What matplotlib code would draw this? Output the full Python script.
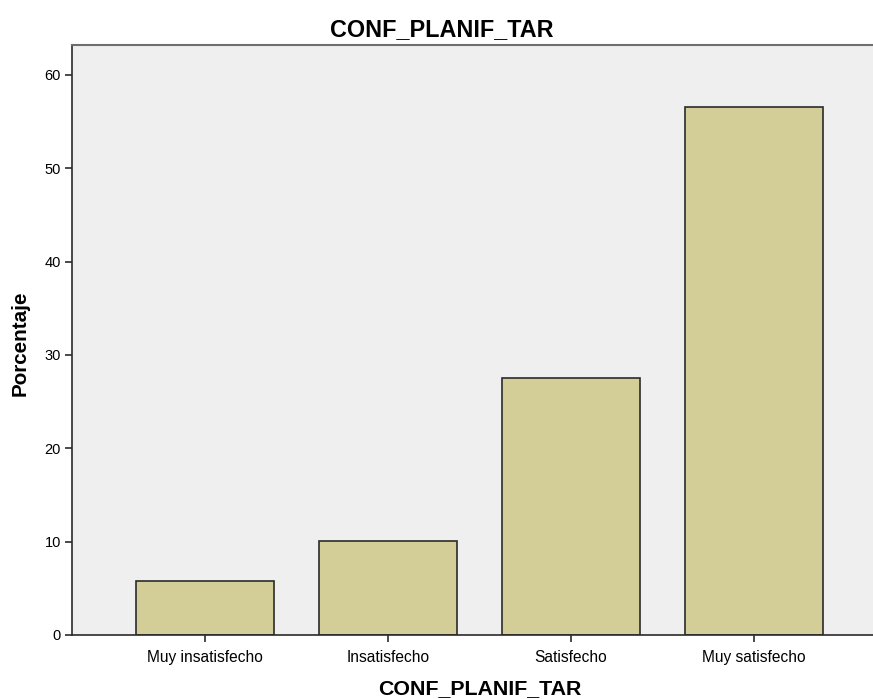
import matplotlib
matplotlib.use('Agg')
import matplotlib.pyplot as plt
import numpy as np

# Data
categories = ["Muy insatisfecho", "Insatisfecho", "Satisfecho", "Muy satisfecho"]
percentages = [5.8, 10.1, 27.5, 56.6]
yticks = [0, 10, 20, 30, 40, 50, 60]

plt.rcParams['font.family'] = ['Liberation Sans', 'DejaVu Sans']

fig = plt.figure(figsize=(8.73, 6.99), dpi=100)
# axes runs off the right edge, as in the original crop
ax = fig.add_axes([72/873, 64/699, 815/873, 590/699])
ax.set_facecolor('#efefef')

x = np.arange(len(categories))
ax.bar(x, percentages, width=0.754, color='#d3ce97', edgecolor='#2b2b2b', linewidth=1.2, zorder=2)

ax.set_xlim(-0.727, 3.727)
ax.set_ylim(0, 63.2)
ax.set_xticks(x)
ax.set_xticklabels(categories, fontsize=11.2)
ax.set_yticks(yticks)
ax.set_yticklabels([str(t) for t in yticks], fontsize=10.5)
ax.tick_params(axis='both', direction='out', length=5, width=1.2, color='#2b2b2b', pad=3)
ax.tick_params(axis='x', pad=6)

for s in ['left', 'bottom']:
    ax.spines[s].set_color('#2b2b2b')
    ax.spines[s].set_linewidth(1.2)
ax.spines['top'].set_color('#6e6e6e')
ax.spines['top'].set_linewidth(1.5)
ax.spines['right'].set_visible(False)

fig.text(442/873, 1 - 30/699, "CONF_PLANIF_TAR", ha='center', va='center', fontsize=16.8, fontweight='bold')
fig.text(480/873, 1 - 689/699, "CONF_PLANIF_TAR", ha='center', va='center', fontsize=15.4, fontweight='bold')
fig.text(20/873, 1 - 343/699, "Porcentaje", ha='center', va='center', rotation=90, fontsize=14.9, fontweight='bold')

fig.savefig("out.png", dpi=100)
